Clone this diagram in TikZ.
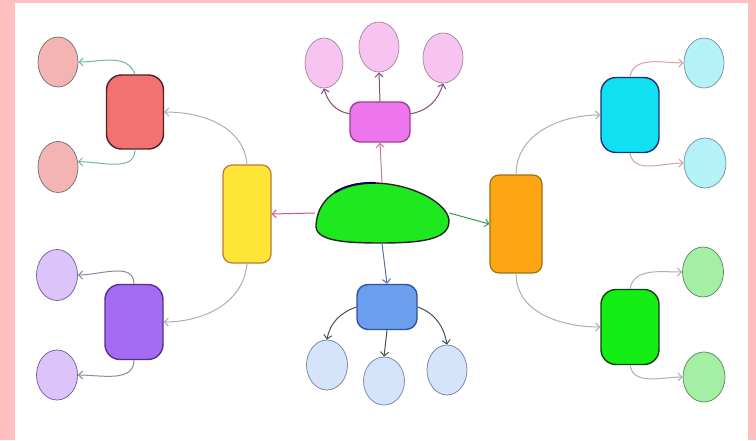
\documentclass[tikz,border=0pt]{standalone}
\usetikzlibrary{shapes.geometric,arrows.meta}
\definecolor{bgpink}{RGB}{255,192,192}
\definecolor{cgfill}{RGB}{30,232,30}
\definecolor{magfill}{RGB}{238,118,236}
\definecolor{magdraw}{RGB}{160,64,150}
\definecolor{pkfill}{RGB}{247,196,242}
\definecolor{pkdraw}{RGB}{165,130,155}
\definecolor{yelfill}{RGB}{255,229,53}
\definecolor{yeldraw}{RGB}{190,120,60}
\definecolor{redfill}{RGB}{242,114,114}
\definecolor{reddraw}{RGB}{80,32,32}
\definecolor{rfill}{RGB}{244,180,180}
\definecolor{rdraw}{RGB}{110,110,110}
\definecolor{purfill}{RGB}{163,108,242}
\definecolor{purdraw}{RGB}{90,46,138}
\definecolor{pfill}{RGB}{220,196,250}
\definecolor{pdraw}{RGB}{112,90,144}
\definecolor{orafill}{RGB}{255,166,21}
\definecolor{oradraw}{RGB}{160,112,16}
\definecolor{cyafill}{RGB}{16,224,242}
\definecolor{cyadraw}{RGB}{32,48,112}
\definecolor{cfill}{RGB}{181,242,248}
\definecolor{cdraw}{RGB}{112,144,160}
\definecolor{grnfill}{RGB}{20,238,20}
\definecolor{grndraw}{RGB}{16,64,16}
\definecolor{gfill}{RGB}{165,239,165}
\definecolor{gdraw}{RGB}{96,128,96}
\definecolor{blufill}{RGB}{107,159,238}
\definecolor{bludraw}{RGB}{48,80,160}
\definecolor{bfill}{RGB}{213,228,250}
\definecolor{bdraw}{RGB}{112,128,160}
\definecolor{aYel}{RGB}{208,80,154}
\definecolor{aMag}{RGB}{192,122,160}
\definecolor{aPk}{RGB}{138,74,120}
\definecolor{aOra}{RGB}{58,154,80}
\definecolor{aBlu}{RGB}{90,112,168}
\definecolor{aB}{RGB}{69,80,95}
\definecolor{aGray}{RGB}{168,176,184}
\definecolor{aR}{RGB}{111,184,168}
\definecolor{aP}{RGB}{138,138,160}
\definecolor{aC}{RGB}{212,160,168}
\begin{document}
\begin{tikzpicture}[x=1pt,y=1pt,
  blob/.style={draw, line width=1.4pt, rounded corners=15pt, inner sep=0pt, minimum width=57pt, minimum height=74pt},
  bar/.style={draw, line width=1.2pt, rounded corners=9pt, inner sep=0pt, minimum width=50pt, minimum height=98pt},
  leaf/.style={ellipse, draw, line width=0.7pt, inner sep=0pt, minimum width=40pt, minimum height=50pt},
  arr/.style={-{Straight Barb[length=4pt,width=8pt]}, line width=1pt},
]
\useasboundingbox (0,0) rectangle (756,440);
\fill[bgpink] (0,0) rectangle (756,440);
\fill[white] (15,0) rectangle (748,437);

% central green shape
\draw[fill=cgfill, line width=1.4pt, draw=black!85]
  (316,215) .. controls (318,245) and (345,258) .. (375,257)
  .. controls (415,256) and (450,235) .. (449,218)
  .. controls (448,200) and (420,197) .. (380,197)
  .. controls (340,197) and (315,200) .. (316,215) -- cycle;
\draw[line width=2pt, draw=black!70!blue, line cap=round] (335,247.6) .. controls (345.75,254.5) and (360,257.5) .. (375,257);
\node[ellipse, minimum width=134pt, minimum height=60pt, inner sep=0pt] (cg) at (382,227) {};

% top
\node[blob, fill=magfill, draw=magdraw, minimum width=60pt, minimum height=40pt, rounded corners=10pt] (mag) at (380,318) {};
\node[leaf, fill=pkfill, draw=pkdraw, minimum width=38pt] (pk1) at (324,377) {};
\node[leaf, fill=pkfill, draw=pkdraw] (pk2) at (379,393) {};
\node[leaf, fill=pkfill, draw=pkdraw] (pk3) at (443,382) {};

% left
\node[bar, fill=yelfill, draw=yeldraw, minimum width=48pt] (yel) at (247,226) {};
\node[blob, fill=redfill, draw=reddraw] (red) at (135,328) {};
\node[leaf, fill=rfill, draw=rdraw] (r1) at (58,378) {};
\node[leaf, fill=rfill, draw=rdraw, minimum height=51pt] (r2) at (58,273) {};
\node[blob, fill=purfill, draw=purdraw, minimum width=58pt, minimum height=75pt] (pur) at (134,118) {};
\node[leaf, fill=pfill, draw=pdraw, minimum width=41pt, minimum height=51pt] (p1) at (57,165) {};
\node[leaf, fill=pfill, draw=pdraw, minimum width=41pt] (p2) at (57,65) {};

% right
\node[bar, fill=orafill, draw=oradraw, minimum width=52pt] (ora) at (516,216) {};
\node[blob, fill=cyafill, draw=cyadraw, minimum width=58pt, minimum height=75pt] (cya) at (630,325) {};
\node[leaf, fill=cfill, draw=cdraw] (c1) at (704,377) {};
\node[leaf, fill=cfill, draw=cdraw, minimum width=42pt] (c2) at (705,277) {};
\node[blob, fill=grnfill, draw=grndraw, minimum width=58pt, minimum height=75pt] (grn) at (630,113) {};
\node[leaf, fill=gfill, draw=gdraw, minimum width=41pt] (g1) at (703,168) {};
\node[leaf, fill=gfill, draw=gdraw, minimum width=42pt] (g2) at (704,63) {};

% bottom
\node[blob, fill=blufill, draw=bludraw, minimum width=60pt, minimum height=45pt, rounded corners=11pt] (blu) at (387,133) {};
\node[leaf, fill=bfill, draw=bdraw, minimum width=41pt] (b1) at (327,75) {};
\node[leaf, fill=bfill, draw=bdraw, minimum width=41pt, minimum height=48pt] (b2) at (384,59) {};
\node[leaf, fill=bfill, draw=bdraw] (b3) at (447,70) {};

% connectors from centre
\draw[arr, aYel] (cg.west) -- (yel.east);
\draw[arr, aOra] (cg.east) -- (ora.west);
\draw[arr, aMag] (cg.north) -- (mag.south);
\draw[arr, aBlu] (cg.south) -- (blu.north);

% top branch
\draw[arr, aPk] (mag.north) -- (pk2.south);
\draw[arr, aPk] (mag.165) to[out=170, in=-75] (pk1.south);
\draw[arr, aPk] (mag.15) to[out=10, in=-105] (pk3.south);

% left branch
\draw[arr, aGray] (yel.north) to[out=95, in=0] (red.east);
\draw[arr, aGray] (yel.south) to[out=-95, in=0] (pur.east);
\draw[arr, aR] (red.north) to[out=110, in=0] (r1.east);
\draw[arr, aR] (red.south) to[out=-90, in=0] (r2.15);
\draw[arr, aP] (pur.north) to[out=90, in=0] (p1.east);
\draw[arr, aP] (pur.south) to[out=-90, in=0] (p2.east);

% right branch
\draw[arr, aGray] (ora.north) to[out=90, in=180] (cya.west);
\draw[arr, aGray] (ora.south) to[out=-90, in=180] (grn.west);
\draw[arr, aC] (cya.north) to[out=80, in=180] (c1.west);
\draw[arr, aC] (cya.south) to[out=-80, in=180] (c2.west);
\draw[arr, aGray] (grn.north) to[out=80, in=180] (g1.west);
\draw[arr, aGray] (grn.south) to[out=-80, in=180] (g2.west);

% bottom branch
\draw[arr, aB] (blu.west) to[out=200, in=80] (b1.north);
\draw[arr, aB] (blu.south) -- (b2.north);
\draw[arr, aB] (blu.east) to[out=-20, in=100] (b3.north);
\end{tikzpicture}
\end{document}
